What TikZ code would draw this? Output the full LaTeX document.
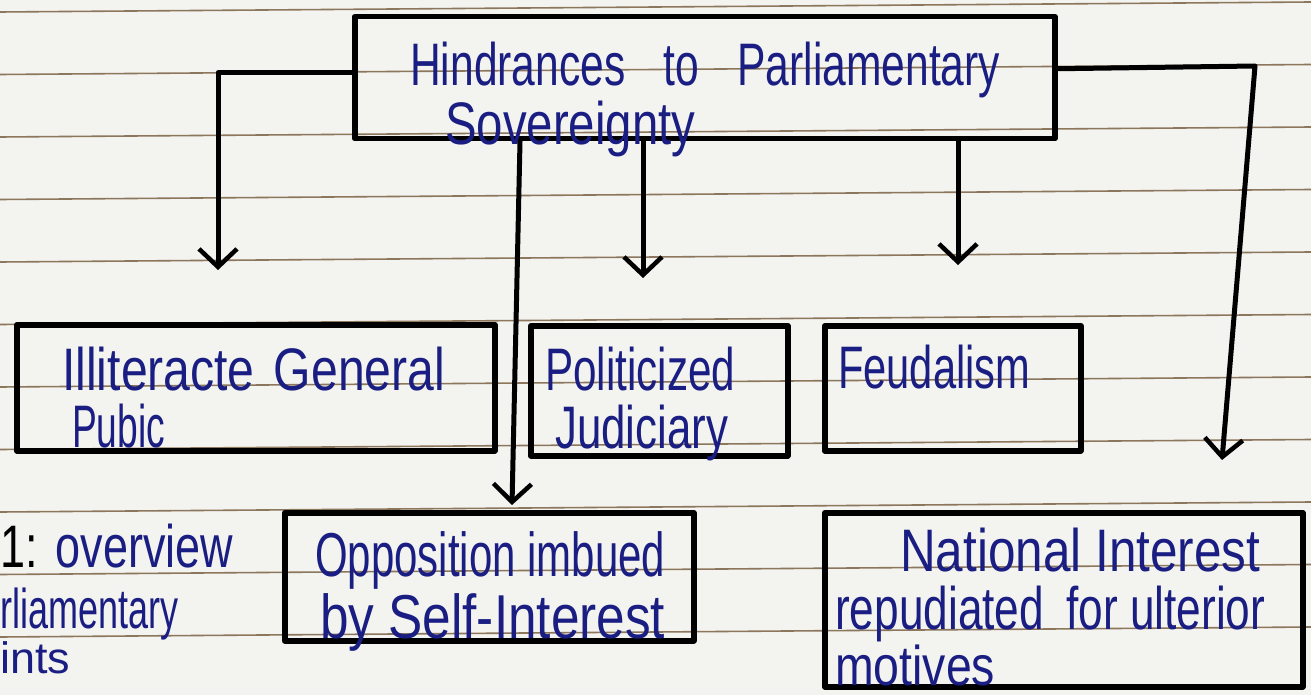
\documentclass[tikz,border=0pt]{standalone}
\usepackage{fontspec}
\setmainfont{Liberation Sans}
\usepackage{graphicx}
\usetikzlibrary{arrows.meta,calc}
\definecolor{paper}{RGB}{243,243,240}
\definecolor{rulecol}{RGB}{140,118,92}
\definecolor{ink}{RGB}{26,30,130}
\newcommand{\hw}[2]{\resizebox{#1}{\height}{#2}}
\begin{document}
\begin{tikzpicture}[x=1pt,y=-1pt,
  box/.style={draw=black,line width=5.5pt,line join=round,inner sep=0pt,anchor=north west},
  hand/.style={text=ink,inner sep=0pt,anchor=base west,font=\fontsize{60}{68}\selectfont},
  conn/.style={draw=black,line width=5pt,line join=round,line cap=round},
  arr/.style={conn,-{Straight Barb[length=18pt,width=38pt,line width=4.5pt]}},
  ruled/.style={draw=rulecol,line width=1.6pt}]
\useasboundingbox (0,0) rectangle (1311,695);
\fill[paper] (0,0) rectangle (1311,695);
\begin{scope}
\clip (0,0) rectangle (1311,695);
% ruled lines of the paper
\foreach \k in {0,...,10}{
  \draw[ruled] (0,{10+62.5*\k+2}) -- (1311,{10+62.5*\k-8});
}
% boxes
\node[box,minimum width=700pt,minimum height=122pt] (top) at (352,14) {};
\node[box,minimum width=478pt,minimum height=126pt] (ill) at (14,322) {};
\node[box,minimum width=257pt,minimum height=130pt] (pol) at (528,323) {};
\node[box,minimum width=256pt,minimum height=125pt] (feu) at (822,323) {};
\node[box,minimum width=409pt,minimum height=128pt] (opp) at (282,510) {};
\node[box,minimum width=478pt,minimum height=174pt] (nat) at (822,510) {};
% texts
\node[hand] (t1) at (410,86) {\hw{590pt}{Hindrances\hspace{0.9em}to\hspace{0.9em}Parliamentary}};
\node[hand] (t2) at (445,145) {\hw{250pt}{Sovereignty}};
\node[hand] (t3) at (62,390) {\hw{383pt}{Illiteracte\hspace{0.4em}General}};
\node[hand] (t4) at (72,447) {\hw{93pt}{Pubic}};
\node[hand] (t5) at (545,390) {\hw{190pt}{Politicized}};
\node[hand] (t6) at (555,448) {\hw{173pt}{Judiciary}};
\node[hand] (t7) at (838,388) {\hw{192pt}{Feudalism}};
\node[hand,font=\fontsize{62}{70}\selectfont] (t8) at (315,576) {\hw{350pt}{Opposition imbued}};
\node[hand,font=\fontsize{62}{70}\selectfont] (t9) at (320,638) {\hw{345pt}{by Self-Interest}};
\node[hand] (t10) at (900,571) {\hw{360pt}{National Interest}};
\node[hand] (t11) at (835,629) {\hw{430pt}{repudiated\hspace{0.5em}for ulterior}};
\node[hand,font=\fontsize{56}{64}\selectfont] (t12) at (835,685) {\hw{160pt}{motives}};
\node[hand] (t13) at (0,567) {\hw{233pt}{\textcolor{black}{1:}\hspace{0.4em}overview}};
\node[hand,font=\fontsize{56}{64}\selectfont] (t14) at (0,628) {\hw{178pt}{rliamentary}};
\node[hand,font=\fontsize{44}{50}\selectfont] (t15) at (0,673) {\hw{70pt}{ints}};
% arrow ends
\coordinate (a1) at (218,270);
\coordinate (c2) at (1255,66);
\coordinate (a2) at (1222,460);
\coordinate (a3) at (643,278);
\coordinate (a4) at (958,265);
\coordinate (a5) at (512,505);
% connectors
\draw[arr] ([yshift=5pt]top.west) -| (a1);
\draw[arr] ([yshift=9pt]top.east) -- (c2) -- (a2);
\draw[arr] ($(top.south west)+(291,0)$) -- (a3);
\draw[arr] ($(top.south west)+(606,0)$) -- (a4);
\draw[arr] ($(top.south west)+(168,0)$) -- (a5);
\end{scope}
\end{tikzpicture}
\end{document}
